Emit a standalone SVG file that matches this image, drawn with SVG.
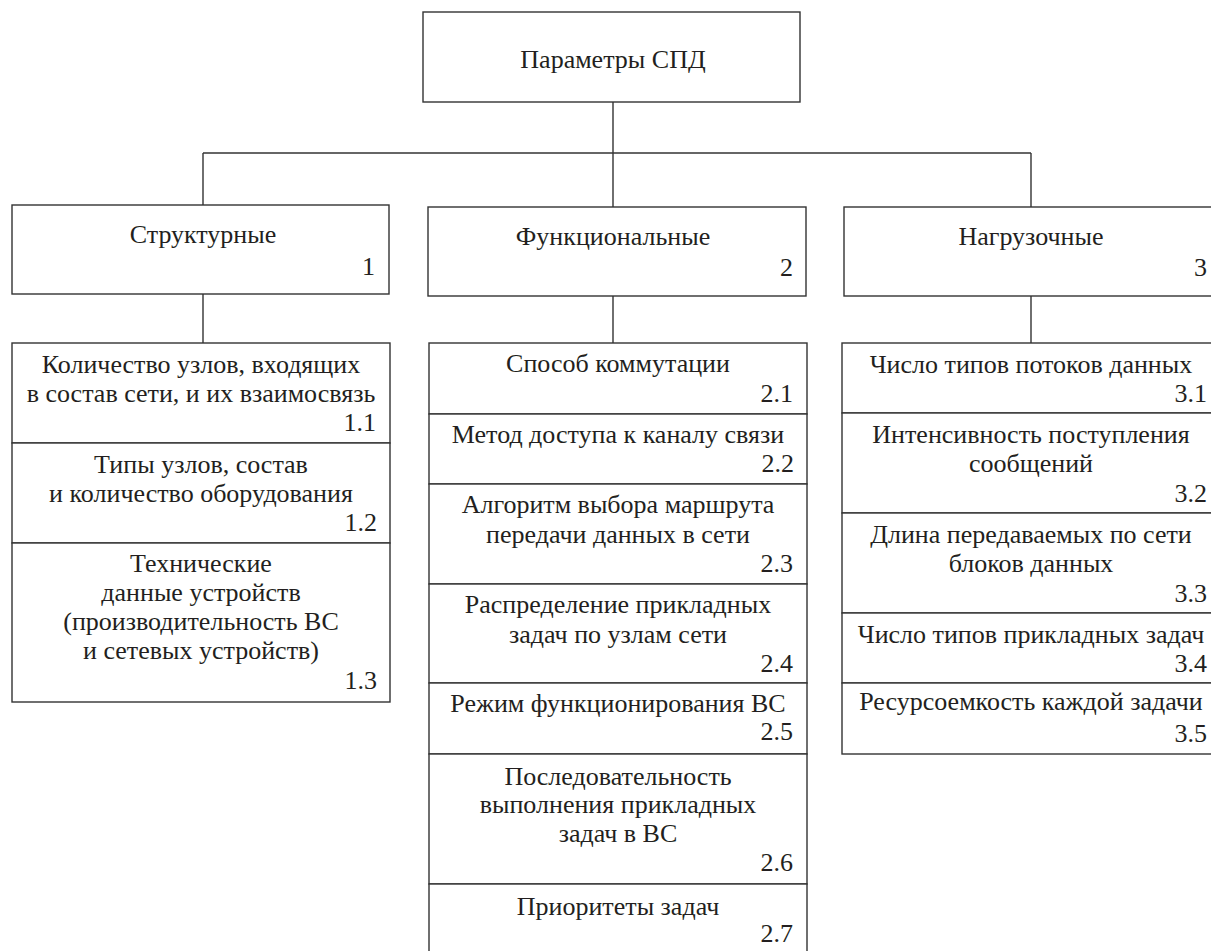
<svg xmlns="http://www.w3.org/2000/svg" width="1211" height="951" viewBox="0 0 1211 951">
<style>
rect{fill:#fff;stroke:#333;stroke-width:1.4}
line{stroke:#333;stroke-width:1.4}
text{font-family:'Liberation Serif','Times New Roman',serif;font-size:26px;fill:#231f20}
.c{text-anchor:middle}
.r{text-anchor:end}
</style>
<rect x="0" y="0" width="1211" height="951" style="stroke:none"/>
<g id="connectors">
<line x1="613" y1="102" x2="613" y2="207"/>
<line x1="203" y1="153" x2="1031" y2="153"/>
<line x1="203" y1="153" x2="203" y2="205"/>
<line x1="1031" y1="153" x2="1031" y2="207"/>
<line x1="203" y1="294" x2="203" y2="343"/>
<line x1="613" y1="296" x2="613" y2="343"/>
<line x1="1031" y1="296" x2="1031" y2="343"/>
</g>
<g id="root">
<rect x="423" y="12" width="377" height="90"/>
<text x="613" y="68" class="c">Параметры СПД</text>
</g>
<g id="cat1">
<rect x="12" y="205" width="377" height="89"/>
<text x="203" y="243" class="c">Структурные</text>
<text x="375" y="275" class="r">1</text>
</g>
<g id="cat2">
<rect x="428" y="207" width="378" height="89"/>
<text x="613" y="245" class="c">Функциональные</text>
<text x="793" y="276" class="r">2</text>
</g>
<g id="cat3">
<rect x="844" y="207" width="376" height="89"/>
<text x="1031" y="245" class="c">Нагрузочные</text>
<text x="1207" y="276" class="r">3</text>
</g>
<g id="n1_1">
<rect x="12" y="343" width="378" height="100"/>
<text x="201" y="373" class="c">Количество узлов, входящих</text>
<text x="201" y="402" class="c">в состав сети, и их взаимосвязь</text>
<text x="376" y="431" class="r">1.1</text>
</g>
<g id="n1_2">
<rect x="12" y="443" width="378" height="100"/>
<text x="201" y="473" class="c">Типы узлов, состав</text>
<text x="201" y="502" class="c">и количество оборудования</text>
<text x="377" y="531" class="r">1.2</text>
</g>
<g id="n1_3">
<rect x="12" y="543" width="378" height="159"/>
<text x="201" y="572" class="c">Технические</text>
<text x="201" y="601" class="c">данные устройств</text>
<text x="201" y="630" class="c">(производительность ВС</text>
<text x="201" y="659" class="c">и сетевых устройств)</text>
<text x="377" y="689" class="r">1.3</text>
</g>
<g id="n2_1">
<rect x="429" y="343" width="378" height="71"/>
<text x="618" y="372" class="c">Способ коммутации</text>
<text x="793" y="402" class="r">2.1</text>
</g>
<g id="n2_2">
<rect x="429" y="414" width="378" height="70"/>
<text x="618" y="443" class="c">Метод доступа к каналу связи</text>
<text x="794" y="472" class="r">2.2</text>
</g>
<g id="n2_3">
<rect x="429" y="484" width="378" height="100"/>
<text x="618" y="513" class="c">Алгоритм выбора маршрута</text>
<text x="618" y="543" class="c">передачи данных в сети</text>
<text x="793" y="572" class="r">2.3</text>
</g>
<g id="n2_4">
<rect x="429" y="584" width="378" height="99"/>
<text x="618" y="613" class="c">Распределение прикладных</text>
<text x="618" y="643" class="c">задач по узлам сети</text>
<text x="793" y="672" class="r">2.4</text>
</g>
<g id="n2_5">
<rect x="429" y="683" width="378" height="71"/>
<text x="618" y="712" class="c">Режим функционирования ВС</text>
<text x="793" y="740" class="r">2.5</text>
</g>
<g id="n2_6">
<rect x="429" y="754" width="378" height="130"/>
<text x="618" y="785" class="c">Последовательность</text>
<text x="618" y="813" class="c">выполнения прикладных</text>
<text x="618" y="842" class="c">задач в ВС</text>
<text x="793" y="871" class="r">2.6</text>
</g>
<g id="n2_7">
<rect x="429" y="884" width="378" height="80"/>
<text x="618" y="915" class="c">Приоритеты задач</text>
<text x="793" y="942" class="r">2.7</text>
</g>
<g id="n3_1">
<rect x="842" y="343" width="378" height="70"/>
<text x="1031" y="373" class="c">Число типов потоков данных</text>
<text x="1207" y="402" class="r">3.1</text>
</g>
<g id="n3_2">
<rect x="842" y="413" width="378" height="100"/>
<text x="1031" y="443" class="c">Интенсивность поступления</text>
<text x="1031" y="472" class="c">сообщений</text>
<text x="1207" y="502" class="r">3.2</text>
</g>
<g id="n3_3">
<rect x="842" y="513" width="378" height="100"/>
<text x="1031" y="543" class="c">Длина передаваемых по сети</text>
<text x="1031" y="572" class="c">блоков данных</text>
<text x="1207" y="602" class="r">3.3</text>
</g>
<g id="n3_4">
<rect x="842" y="613" width="378" height="70"/>
<text x="1031" y="643" class="c">Число типов прикладных задач</text>
<text x="1207" y="672" class="r">3.4</text>
</g>
<g id="n3_5">
<rect x="842" y="683" width="378" height="71"/>
<text x="1031" y="710" class="c">Ресурсоемкость каждой задачи</text>
<text x="1207" y="742" class="r">3.5</text>
</g>
</svg>
